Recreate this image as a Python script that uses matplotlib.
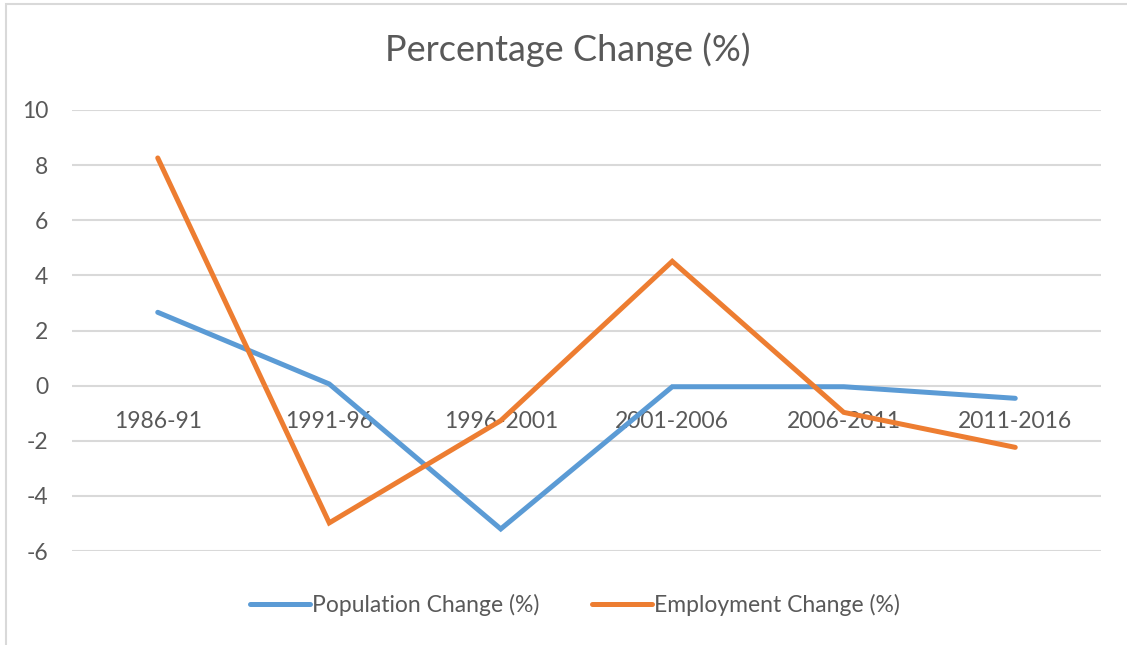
import matplotlib
matplotlib.use("Agg")
import matplotlib.pyplot as plt
from matplotlib.patches import Rectangle

categories = ["1986-91", "1991-96", "1996-2001", "2001-2006", "2006-2011", "2011-2016"]
population_change = [2.66, 0.06, -5.2, -0.04, -0.04, -0.46]
employment_change = [8.26, -4.98, -1.27, 4.51, -0.97, -2.24]
yticks = [-6, -4, -2, 0, 2, 4, 6, 8, 10]

plt.rcParams['font.family'] = ['Lato', 'DejaVu Sans']
TXT = '#595959'

W, H = 1127, 645
fig = plt.figure(figsize=(W / 100, H / 100), dpi=100)
ax = fig.add_axes([72 / W, 1 - 551 / H, (1101 - 72) / W, (551 - 110) / H])

x = list(range(len(categories)))
ax.plot(x, population_change, color='#5B9BD5', lw=3.6, solid_capstyle='round',
        solid_joinstyle='miter', label='Population Change (%)', zorder=3)
ax.plot(x, employment_change, color='#ED7D31', lw=3.6, solid_capstyle='round',
        solid_joinstyle='miter', label='Employment Change (%)', zorder=3)

ax.set_xlim(-0.5, len(categories) - 0.5)
ax.set_ylim(-6, 10)
ax.set_yticks(yticks)
ax.set_yticklabels([str(t) for t in yticks])
ax.yaxis.grid(True, color='#D9D9D9', lw=1.5)
ax.set_axisbelow(True)
for s in ax.spines.values():
    s.set_visible(False)
ax.spines['bottom'].set_position(('data', 0))
ax.set_xticks(x)
ax.set_xticklabels(categories)
ax.tick_params(axis='x', length=0, pad=18, labelsize=16.5, labelcolor=TXT)
ax.tick_params(axis='y', length=0, pad=17, labelsize=16.5, labelcolor=TXT)

fig.text(568 / W, 1 - 50 / H, 'Percentage Change (%)', ha='center', va='center',
         fontsize=26, color=TXT)

leg = fig.legend(loc='center', bbox_to_anchor=(575 / W, 1 - 605 / H), ncol=2,
                 frameon=False, fontsize=16.5, handlelength=2.6, handletextpad=0.1,
                 columnspacing=2.3)
for t in leg.get_texts():
    t.set_color(TXT)

fig.patches.append(Rectangle((6 / W, -0.1), 1.2, 1 - 4 / H + 0.1, transform=fig.transFigure,
                             fill=False, edgecolor='#D9D9D9', lw=1.5))

fig.savefig('out.png', dpi=100)
